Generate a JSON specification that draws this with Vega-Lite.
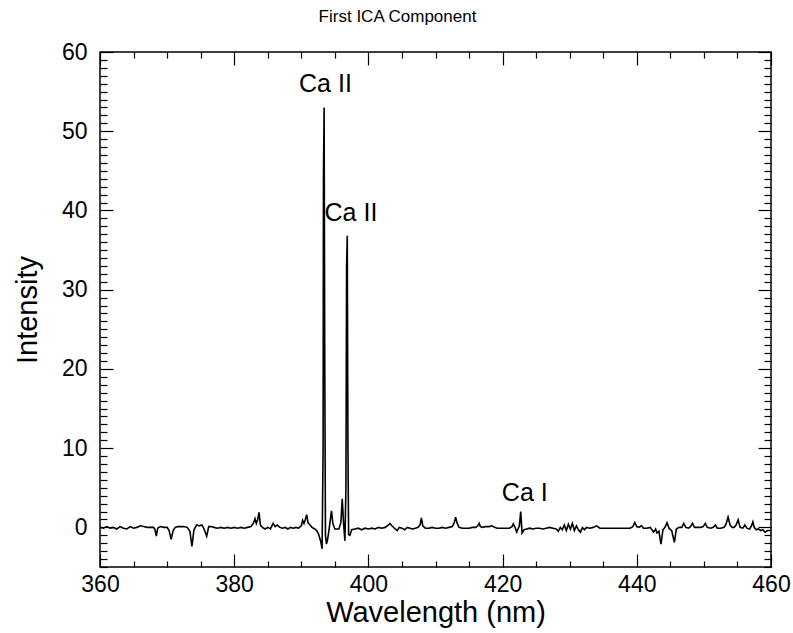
{
  "$schema": "https://vega.github.io/schema/vega-lite/v6.json",
  "width": 671,
  "height": 515,
  "autosize": {"type": "none"},
  "padding": {"left": 100, "top": 52, "right": 22, "bottom": 66},
  "background": "white",
  "config": {
    "font": "Liberation Sans",
    "view": {"stroke": "black", "strokeWidth": 1.5},
    "axis": {"domain": false, "grid": false, "tickColor": "black", "tickWidth": 1.2, "labelColor": "black", "titleColor": "black", "labelFont": "Liberation Sans", "titleFont": "Liberation Sans", "titleFontWeight": "normal"}
  },
  "datasets": {
    "spectrum": [
      {"w":360.0,"i":0.0},{"w":360.5,"i":-0.1},{"w":361.0,"i":0.1},{"w":361.5,"i":-0.1},{"w":362.0,"i":0.0},{"w":362.5,"i":-0.2},{"w":363.0,"i":0.1},{"w":363.5,"i":-0.1},{"w":364.0,"i":-0.2},{"w":364.5,"i":0.1},{"w":365.0,"i":-0.1},{"w":365.5,"i":0.0},{"w":366.0,"i":0.2},{"w":366.5,"i":0.1},{"w":367.0,"i":0.0},{"w":367.5,"i":0.0},{"w":368.0,"i":0.0},{"w":368.2,"i":-0.3},{"w":368.4,"i":-1.1},{"w":368.6,"i":-0.1},{"w":369.0,"i":0.1},{"w":369.5,"i":0.0},{"w":370.0,"i":0.0},{"w":370.3,"i":-0.4},{"w":370.6,"i":-1.5},{"w":370.9,"i":-0.4},{"w":371.2,"i":0.0},{"w":371.6,"i":0.1},{"w":372.0,"i":0.1},{"w":372.5,"i":0.1},{"w":373.0,"i":0.0},{"w":373.4,"i":-0.5},{"w":373.7,"i":-2.4},{"w":374.0,"i":-0.3},{"w":374.4,"i":0.3},{"w":374.8,"i":0.2},{"w":375.2,"i":0.3},{"w":375.5,"i":-0.2},{"w":375.9,"i":-1.1},{"w":376.2,"i":0.1},{"w":376.6,"i":0.1},{"w":377.0,"i":0.0},{"w":377.5,"i":-0.1},{"w":378.0,"i":0.0},{"w":378.5,"i":-0.1},{"w":379.0,"i":0.0},{"w":379.5,"i":-0.1},{"w":380.0,"i":0.0},{"w":380.5,"i":-0.1},{"w":381.0,"i":0.0},{"w":381.5,"i":-0.1},{"w":382.0,"i":0.0},{"w":382.5,"i":0.1},{"w":382.9,"i":0.6},{"w":383.1,"i":1.1},{"w":383.3,"i":0.5},{"w":383.5,"i":1.0},{"w":383.7,"i":1.9},{"w":383.9,"i":0.3},{"w":384.2,"i":0.0},{"w":384.6,"i":-0.2},{"w":385.0,"i":0.0},{"w":385.4,"i":-0.2},{"w":385.8,"i":0.5},{"w":386.1,"i":0.1},{"w":386.4,"i":0.3},{"w":386.8,"i":0.0},{"w":387.2,"i":-0.1},{"w":387.6,"i":0.0},{"w":388.0,"i":-0.2},{"w":388.4,"i":0.0},{"w":388.8,"i":-0.1},{"w":389.2,"i":0.0},{"w":389.6,"i":-0.1},{"w":390.0,"i":0.2},{"w":390.2,"i":0.9},{"w":390.4,"i":0.5},{"w":390.6,"i":1.0},{"w":390.8,"i":1.6},{"w":391.0,"i":0.6},{"w":391.3,"i":0.3},{"w":391.6,"i":0.0},{"w":392.0,"i":-0.2},{"w":392.3,"i":-0.4},{"w":392.6,"i":-0.9},{"w":392.9,"i":-1.8},{"w":393.1,"i":-2.7},{"w":393.25,"i":10},{"w":393.3,"i":44},{"w":393.4,"i":53},{"w":393.5,"i":20},{"w":393.6,"i":-1.0},{"w":393.75,"i":-2.1},{"w":393.9,"i":-1.6},{"w":394.1,"i":-0.5},{"w":394.3,"i":0.8},{"w":394.5,"i":2.1},{"w":394.7,"i":0.5},{"w":395.0,"i":-0.2},{"w":395.3,"i":-0.2},{"w":395.6,"i":-0.2},{"w":395.9,"i":0.6},{"w":396.1,"i":3.6},{"w":396.3,"i":0.5},{"w":396.5,"i":-1.7},{"w":396.65,"i":5},{"w":396.75,"i":33},{"w":396.85,"i":36.8},{"w":396.95,"i":10},{"w":397.05,"i":-0.9},{"w":397.25,"i":-1.0},{"w":397.5,"i":-0.3},{"w":398.0,"i":-0.2},{"w":398.5,"i":-0.1},{"w":399.0,"i":-0.3},{"w":399.5,"i":-0.1},{"w":400.0,"i":-0.2},{"w":400.5,"i":-0.1},{"w":401.0,"i":-0.2},{"w":401.5,"i":0.0},{"w":402.0,"i":-0.1},{"w":402.5,"i":0.0},{"w":403.0,"i":0.3},{"w":403.2,"i":0.5},{"w":403.5,"i":0.2},{"w":404.0,"i":-0.2},{"w":404.3,"i":-0.4},{"w":404.6,"i":0.0},{"w":405.0,"i":-0.1},{"w":405.4,"i":-0.3},{"w":405.8,"i":0.0},{"w":406.2,"i":-0.1},{"w":406.6,"i":-0.2},{"w":407.0,"i":-0.1},{"w":407.4,"i":0.0},{"w":407.7,"i":0.3},{"w":407.9,"i":1.2},{"w":408.1,"i":0.2},{"w":408.5,"i":-0.1},{"w":409.0,"i":-0.1},{"w":409.5,"i":0.0},{"w":410.0,"i":-0.1},{"w":410.5,"i":-0.1},{"w":411.0,"i":0.0},{"w":411.5,"i":-0.1},{"w":412.0,"i":0.0},{"w":412.5,"i":0.1},{"w":412.8,"i":0.6},{"w":413.0,"i":1.3},{"w":413.2,"i":0.6},{"w":413.5,"i":0.0},{"w":414.0,"i":-0.1},{"w":414.5,"i":-0.1},{"w":415.0,"i":-0.1},{"w":415.5,"i":0.0},{"w":416.0,"i":0.0},{"w":416.3,"i":0.2},{"w":416.5,"i":0.5},{"w":416.7,"i":0.1},{"w":417.0,"i":0.0},{"w":417.5,"i":0.1},{"w":418.0,"i":0.1},{"w":418.4,"i":0.2},{"w":418.8,"i":0.0},{"w":419.2,"i":-0.1},{"w":419.6,"i":-0.1},{"w":420.0,"i":-0.1},{"w":420.5,"i":-0.1},{"w":421.0,"i":-0.1},{"w":421.4,"i":0.1},{"w":421.6,"i":0.45},{"w":421.8,"i":0.1},{"w":422.1,"i":-0.6},{"w":422.5,"i":0.2},{"w":422.7,"i":2.0},{"w":422.9,"i":-0.7},{"w":423.2,"i":-0.3},{"w":423.6,"i":-0.2},{"w":424.0,"i":-0.1},{"w":424.5,"i":-0.2},{"w":425.0,"i":-0.1},{"w":425.5,"i":-0.1},{"w":426.0,"i":-0.2},{"w":426.5,"i":-0.1},{"w":427.0,"i":0.0},{"w":427.5,"i":-0.1},{"w":428.0,"i":-0.2},{"w":428.3,"i":-0.5},{"w":428.6,"i":0.0},{"w":428.9,"i":-0.3},{"w":429.2,"i":0.3},{"w":429.5,"i":-0.4},{"w":429.8,"i":0.4},{"w":430.1,"i":-0.2},{"w":430.4,"i":0.5},{"w":430.7,"i":-0.4},{"w":431.0,"i":0.2},{"w":431.3,"i":-0.3},{"w":431.6,"i":-0.6},{"w":431.9,"i":0.0},{"w":432.2,"i":-0.3},{"w":432.5,"i":0.0},{"w":433.0,"i":-0.1},{"w":433.5,"i":0.0},{"w":434.0,"i":0.2},{"w":434.5,"i":-0.1},{"w":435.0,"i":-0.1},{"w":435.5,"i":-0.1},{"w":436.0,"i":-0.1},{"w":436.5,"i":-0.1},{"w":437.0,"i":-0.1},{"w":437.5,"i":-0.1},{"w":438.0,"i":-0.1},{"w":438.5,"i":-0.1},{"w":439.0,"i":-0.1},{"w":439.4,"i":0.1},{"w":439.7,"i":0.6},{"w":440.0,"i":0.1},{"w":440.3,"i":0.0},{"w":440.7,"i":0.2},{"w":441.0,"i":-0.1},{"w":441.5,"i":-0.1},{"w":442.0,"i":0.0},{"w":442.5,"i":-0.6},{"w":442.8,"i":-0.2},{"w":443.0,"i":-0.7},{"w":443.3,"i":-0.5},{"w":443.6,"i":-2.1},{"w":443.9,"i":-0.3},{"w":444.2,"i":0.0},{"w":444.5,"i":0.6},{"w":444.8,"i":-0.1},{"w":445.2,"i":-0.4},{"w":445.6,"i":-1.9},{"w":445.9,"i":-0.2},{"w":446.3,"i":0.0},{"w":446.7,"i":0.0},{"w":447.0,"i":0.5},{"w":447.3,"i":0.0},{"w":447.7,"i":-0.1},{"w":448.0,"i":0.1},{"w":448.3,"i":0.5},{"w":448.6,"i":0.0},{"w":449.0,"i":0.0},{"w":449.5,"i":0.0},{"w":449.9,"i":0.1},{"w":450.2,"i":0.5},{"w":450.5,"i":0.0},{"w":451.0,"i":-0.1},{"w":451.4,"i":0.0},{"w":451.7,"i":0.3},{"w":452.0,"i":-0.1},{"w":452.5,"i":-0.1},{"w":453.0,"i":0.0},{"w":453.3,"i":0.4},{"w":453.6,"i":1.3},{"w":453.9,"i":0.3},{"w":454.2,"i":0.0},{"w":454.5,"i":0.0},{"w":454.8,"i":0.3},{"w":455.1,"i":0.95},{"w":455.4,"i":0.0},{"w":455.8,"i":-0.1},{"w":456.1,"i":0.3},{"w":456.4,"i":-0.1},{"w":456.8,"i":-0.2},{"w":457.1,"i":0.2},{"w":457.3,"i":0.7},{"w":457.5,"i":0.0},{"w":457.8,"i":-0.3},{"w":458.1,"i":-0.2},{"w":458.5,"i":-0.4},{"w":458.8,"i":-0.3},{"w":459.1,"i":-0.6},{"w":459.5,"i":-0.4},{"w":460.0,"i":-0.4}
    ],
    "labels": [
      {"w": 393.6, "i": 56.0, "label": "Ca II"},
      {"w": 397.4, "i": 39.7, "label": "Ca II"},
      {"w": 423.3, "i": 4.3, "label": "Ca I"}
    ]
  },
  "resolve": {"axis": {"x": "independent", "y": "independent"}},
  "layer": [
    {
      "data": {"name": "spectrum"},
      "mark": {"type": "line", "color": "black", "strokeWidth": 1.6, "clip": true},
      "encoding": {
        "x": {"field": "w", "type": "quantitative", "scale": {"domain": [360, 460], "nice": false, "zero": false},
          "axis": {"orient": "bottom", "values": [360, 380, 400, 420, 440, 460], "ticks": false, "labelFontSize": 23, "labelPadding": 6, "labelFlush": false, "labelOverlap": false, "title": "Wavelength (nm)", "titleFontSize": 29, "titleX": 335.5, "titleY": 54, "titleAlign": "center", "titleBaseline": "alphabetic"}},
        "y": {"field": "i", "type": "quantitative", "scale": {"domain": [-5, 60], "nice": false, "zero": false},
          "axis": {"orient": "left", "values": [0, 10, 20, 30, 40, 50, 60], "ticks": false, "labelFontSize": 23, "labelPadding": 13, "labelFlush": false, "labelOverlap": false, "title": "Intensity", "titleFontSize": 29, "titleAngle": -90, "titleX": -64, "titleY": 257.5, "titleAlign": "center", "titleBaseline": "alphabetic"}}
      }
    },
    {
      "data": {"name": "labels"},
      "mark": {"type": "text", "fontSize": 25, "color": "black", "align": "center", "baseline": "middle"},
      "encoding": {
        "text": {"field": "label", "type": "nominal"},
        "x": {"field": "w", "type": "quantitative", "axis": {"orient": "bottom", "values": [360, 380, 400, 420, 440, 460], "tickSize": -13, "labels": false, "title": null}},
        "y": {"field": "i", "type": "quantitative", "axis": {"orient": "left", "values": [0, 10, 20, 30, 40, 50, 60], "tickSize": -13, "labels": false, "title": null}}
      }
    },
    {
      "data": {"name": "labels"},
      "mark": {"type": "point", "opacity": 0},
      "encoding": {
        "x": {"field": "w", "type": "quantitative", "axis": {"orient": "bottom", "values": [365, 370, 375, 385, 390, 395, 405, 410, 415, 425, 430, 435, 445, 450, 455], "tickSize": -6, "labels": false, "title": null}},
        "y": {"field": "i", "type": "quantitative", "axis": {"orient": "left", "values": [-5, -4, -3, -2, -1, 1, 2, 3, 4, 5, 6, 7, 8, 9, 11, 12, 13, 14, 15, 16, 17, 18, 19, 21, 22, 23, 24, 25, 26, 27, 28, 29, 31, 32, 33, 34, 35, 36, 37, 38, 39, 41, 42, 43, 44, 45, 46, 47, 48, 49, 51, 52, 53, 54, 55, 56, 57, 58, 59], "tickSize": -7, "labels": false, "title": null}}
      }
    },
    {
      "data": {"name": "labels"},
      "mark": {"type": "point", "opacity": 0},
      "encoding": {
        "x": {"field": "w", "type": "quantitative", "axis": {"orient": "top", "values": [360, 380, 400, 420, 440, 460], "tickSize": -13, "labels": false, "title": "First ICA Component", "titleFontSize": 17, "titleX": 297, "titleY": -31, "titleAlign": "center", "titleBaseline": "alphabetic"}},
        "y": {"field": "i", "type": "quantitative", "axis": {"orient": "right", "values": [0, 10, 20, 30, 40, 50, 60], "tickSize": -13, "labels": false, "title": null}}
      }
    },
    {
      "data": {"name": "labels"},
      "mark": {"type": "point", "opacity": 0},
      "encoding": {
        "x": {"field": "w", "type": "quantitative", "axis": {"orient": "top", "values": [365, 370, 375, 385, 390, 395, 405, 410, 415, 425, 430, 435, 445, 450, 455], "tickSize": -6, "labels": false, "title": null}},
        "y": {"field": "i", "type": "quantitative", "axis": {"orient": "right", "values": [-5, -4, -3, -2, -1, 1, 2, 3, 4, 5, 6, 7, 8, 9, 11, 12, 13, 14, 15, 16, 17, 18, 19, 21, 22, 23, 24, 25, 26, 27, 28, 29, 31, 32, 33, 34, 35, 36, 37, 38, 39, 41, 42, 43, 44, 45, 46, 47, 48, 49, 51, 52, 53, 54, 55, 56, 57, 58, 59], "tickSize": -7, "labels": false, "title": null}}
      }
    }
  ]
}
